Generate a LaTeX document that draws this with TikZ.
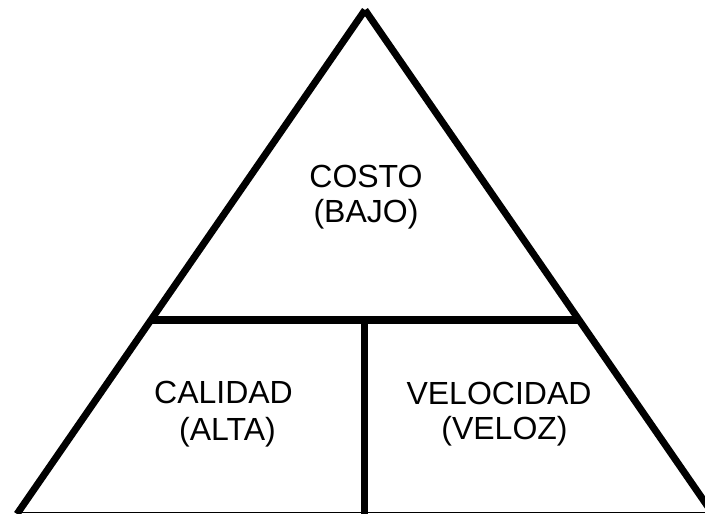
\documentclass[tikz,border=0pt]{standalone}
\usepackage{fontspec}
\setmainfont{Liberation Sans}
\tikzset{
  side/.style={line width=7pt,line cap=butt},
  label/.style={anchor=base,inner sep=0pt,font=\fontsize{32}{36}\selectfont},
}
\begin{document}
\begin{tikzpicture}[x=1pt,y=-1pt]
  \useasboundingbox (0,0) rectangle (705,514);
  \coordinate (top) at (365,10);
  \coordinate (bl) at (17,514);
  \coordinate (br) at (713,514);
  \coordinate (ml) at (151,320);
  \coordinate (mr) at (579,320);
  \coordinate (mc) at (364,320);
  \coordinate (bc) at (364,514);
  \coordinate (b1) at (22,512.5);
  \coordinate (b2) at (705,512.5);

  \draw [side] (bl) -- (top);
  \draw [side] (br) -- (top);
  \draw [line width=8pt] (ml) -- (mr);
  \draw [side] (mc) -- (bc);
  \draw [line width=1pt] (b1) -- (b2);

  \node [label] (costo) at (366,187) {COSTO};
  \node [label] (bajo) at (366,222) {(BAJO)};
  \node [label] (calidad) at (223.5,403.5) {CALIDAD};
  \node [label] (alta) at (227.5,440) {(ALTA)};
  \node [label] (velocidad) at (499,404) {VELOCIDAD};
  \node [label] (veloz) at (504.5,439) {(VELOZ)};
\end{tikzpicture}
\end{document}
